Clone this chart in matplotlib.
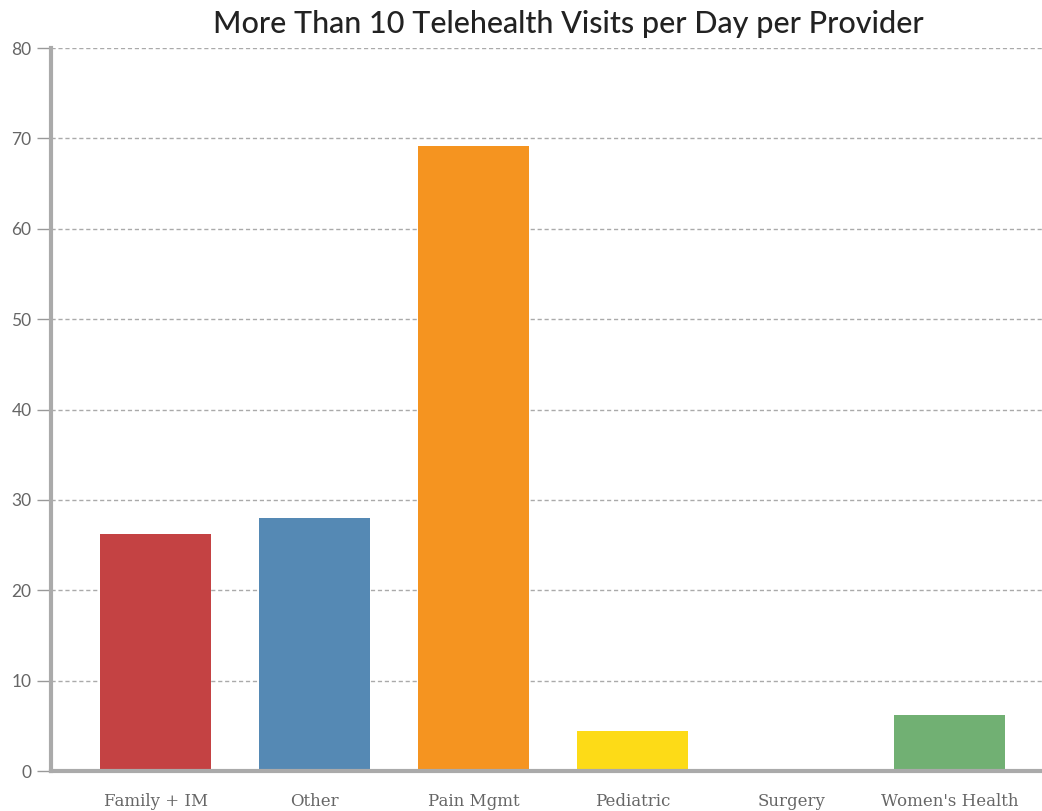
import matplotlib
matplotlib.use("Agg")
import matplotlib.pyplot as plt

categories = ["Family + IM", "Other", "Pain Mgmt", "Pediatric", "Surgery", "Women's Health"]
values = [26.2, 28.0, 69.2, 4.4, 0.0, 6.2]
colors = ["#C44243", "#5589B4", "#F59420", "#FDDB17", "#B0B0B0", "#71B073"]
yticks = [0, 10, 20, 30, 40, 50, 60, 70, 80]

fig = plt.figure(figsize=(10.42, 8.11), dpi=100)
ax = fig.add_axes([0.049, 0.0493, 0.951, 0.8915])

x = list(range(len(categories)))
ax.bar(x, values, width=0.7, color=colors, zorder=3)

ax.set_xlim(-0.66, 5.58)
ax.set_ylim(0, 80)
ax.set_yticks(yticks)
ax.set_yticklabels([str(t) for t in yticks], family="Lato", fontsize=12.5, color="#666666")
ax.set_xticks(x)
ax.set_xticklabels(categories, family="DejaVu Serif", fontsize=12, color="#666666")

ax.grid(axis="y", linestyle=(0, (3, 2)), color="#AAAAAA", linewidth=1, zorder=0)
for side in ("top", "right"):
    ax.spines[side].set_visible(False)
ax.spines["left"].set_color("#AAAAAA")
ax.spines["left"].set_linewidth(3)
ax.spines["bottom"].set_color("#AAAAAA")
ax.spines["bottom"].set_linewidth(3)
ax.spines["bottom"].set_zorder(4)
ax.tick_params(axis="y", length=10, width=1, color="#999999", pad=4)
ax.tick_params(axis="x", length=0, pad=16)

fig.text(0.545, 0.971, "More Than 10 Telehealth Visits per Day per Provider",
         ha="center", va="center", family="Lato", fontsize=22, weight="medium",
         color="#222222")

fig.savefig("out.png", dpi=100)
